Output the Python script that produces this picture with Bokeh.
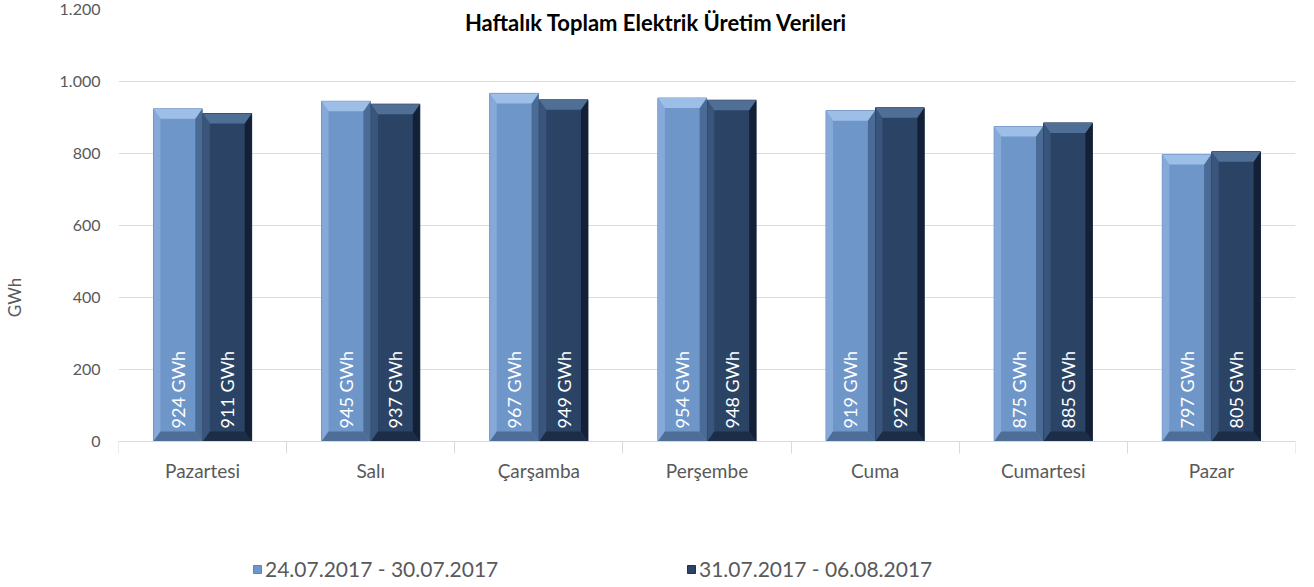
from bokeh.plotting import figure
from bokeh.models import (FixedTicker, Range1d, Label, Legend, LegendItem, ColumnDataSource, LinearAxis)
from bokeh.core.properties import value
from bokeh.embed import file_html
from bokeh.resources import INLINE
import math

categories = ["Pazartesi", "Salı", "Çarşamba", "Perşembe", "Cuma", "Cumartesi", "Pazar"]
series_names = ["24.07.2017 - 30.07.2017", "31.07.2017 - 06.08.2017"]
week1 = [924, 945, 967, 954, 919, 875, 797]
week2 = [911, 937, 949, 948, 927, 885, 805]
y_ticks = [0, 200, 400, 600, 800, 1000, 1200]
y_tick_labels = ["0", "200", "400", "600", "800", "1.000", "1.200"]
title_text = "Haftalık Toplam Elektrik Üretim Verileri"
y_label = "GWh"

FONT = "Lato"
W, H = 1298, 585
B_LEFT, B_RIGHT, B_TOP, B_BOTTOM = 111, 3, 9, 0
frame_w = W - B_LEFT - B_RIGHT
frame_h = H - B_TOP - B_BOTTOM
zero_px_from_top = 441 - B_TOP          # pixel row of value 0 inside the frame
units_per_px = 1200.0 / zero_px_from_top
y_start = -(frame_h - zero_px_from_top) * units_per_px
x_units_per_px = 7.0 / frame_w

p = figure(width=W, height=H, output_backend="svg", toolbar_location=None,
           x_range=Range1d(-0.5, 6.5), y_range=Range1d(y_start, 1200),
           x_axis_location=None,
           min_border_left=B_LEFT, min_border_right=B_RIGHT, min_border_top=B_TOP,
           min_border_bottom=B_BOTTOM)
p.outline_line_color = None
p.background_fill_color = "white"

bev_x = 7 * x_units_per_px
bev_y = 10 * units_per_px

bar_w = 0.29
offs = [-0.147, 0.147]
styles = [
    dict(face="#6f96c9", top="#9dbee7", left="#88abda", right="#46668f", bottom="#4e6e98", line="#5f83b2"),
    dict(face="#2b4466", top="#506f96", left="#3b587d", right="#111d30", bottom="#1b2d47", line="#1e324f"),
]

renderers = []
for si, vals in enumerate([week1, week2]):
    st = styles[si]
    xs = [i + offs[si] for i in range(len(categories))]
    src = ColumnDataSource(dict(x=xs, top=vals, lab=[f"{v} GWh" for v in vals]))
    r = p.vbar(x="x", top="top", width=bar_w, source=src, fill_color=st["face"],
               line_color=st["line"], line_width=1)
    renderers.append(r)
    hw = bar_w / 2
    tops, lefts, rights, bots = ([], []), ([], []), ([], []), ([], [])
    for cx, h in zip(xs, vals):
        l, rr = cx - hw, cx + hw
        tops[0].append([l, rr, rr - bev_x, l + bev_x]); tops[1].append([h, h, h - bev_y, h - bev_y])
        lefts[0].append([l, l + bev_x, l + bev_x, l]); lefts[1].append([h, h - bev_y, bev_y, 0])
        rights[0].append([rr, rr - bev_x, rr - bev_x, rr]); rights[1].append([h, h - bev_y, bev_y, 0])
        bots[0].append([l, rr, rr - bev_x, l + bev_x]); bots[1].append([0, 0, bev_y, bev_y])
    p.patches(lefts[0], lefts[1], fill_color=st["left"], line_color=None, fill_alpha=0.9)
    p.patches(rights[0], rights[1], fill_color=st["right"], line_color=None, fill_alpha=0.9)
    p.patches(tops[0], tops[1], fill_color=st["top"], line_color=None)
    p.patches(bots[0], bots[1], fill_color=st["bottom"], line_color=None)
    p.text(x="x", y=0, text="lab", source=src, angle=math.pi / 2, text_align="left",
           text_baseline="middle", y_offset=-13, text_color="white",
           text_font=value(FONT), text_font_size="18px")

# x axis drawn at value 0 inside the frame
xax = LinearAxis(fixed_location=0)
xax.ticker = FixedTicker(ticks=list(range(len(categories))),
                         minor_ticks=[i - 0.5 for i in range(len(categories) + 1)])
xax.major_label_overrides = {i: c for i, c in enumerate(categories)}
xax.major_tick_line_color = None
xax.major_tick_out = 0
xax.major_tick_in = 0
xax.minor_tick_line_color = "#d9d9d9"
xax.minor_tick_out = 12
xax.minor_tick_in = 0
xax.axis_line_color = "#d9d9d9"
xax.major_label_standoff = 5
xax.major_label_text_font = FONT
xax.major_label_text_font_size = "19px"
xax.major_label_text_color = "#595959"
p.add_layout(xax, "below")

p.yaxis.ticker = FixedTicker(ticks=y_ticks)
p.yaxis.major_label_overrides = {t: s for t, s in zip(y_ticks, y_tick_labels)}
p.yaxis.axis_line_color = None
p.yaxis.major_tick_line_color = None
p.yaxis.major_tick_out = 0
p.yaxis.major_tick_in = 0
p.yaxis.minor_tick_line_color = None
p.yaxis.minor_tick_out = 0
p.yaxis.major_label_standoff = 18
p.yaxis.major_label_text_font = FONT
p.yaxis.major_label_text_font_size = "16px"
p.yaxis.major_label_text_color = "#595959"
p.yaxis.axis_label = y_label
p.yaxis.axis_label_standoff = 32
p.yaxis.axis_label_text_font = FONT
p.yaxis.axis_label_text_font_style = "normal"
p.yaxis.axis_label_text_font_size = "17px"
p.yaxis.axis_label_text_color = "#595959"

p.xgrid.grid_line_color = None
p.ygrid.grid_line_color = "#d5dfec"
p.ygrid.grid_line_width = 1

title_x = -0.5 + (660 - 119) * x_units_per_px
title_y = 1200 - 13 * units_per_px
p.add_layout(Label(x=title_x, y=title_y, text=title_text, text_align="center",
                   text_baseline="middle", text_font=FONT, text_font_style="bold",
                   text_font_size="22px", text_color="#000000"))

for i, (r, name) in enumerate(zip(renderers, series_names)):
    lg = Legend(items=[LegendItem(label=name, renderers=[r])],
                location=(134 + 434 * i, 4), orientation="horizontal",
                glyph_width=10, glyph_height=10, label_standoff=3, padding=0, margin=0,
                border_line_color=None, background_fill_alpha=0,
                label_text_font=FONT, label_text_font_size="21px", label_text_color="#595959")
    p.add_layout(lg, "center")

open("out.html", "w").write(file_html(p, INLINE))
